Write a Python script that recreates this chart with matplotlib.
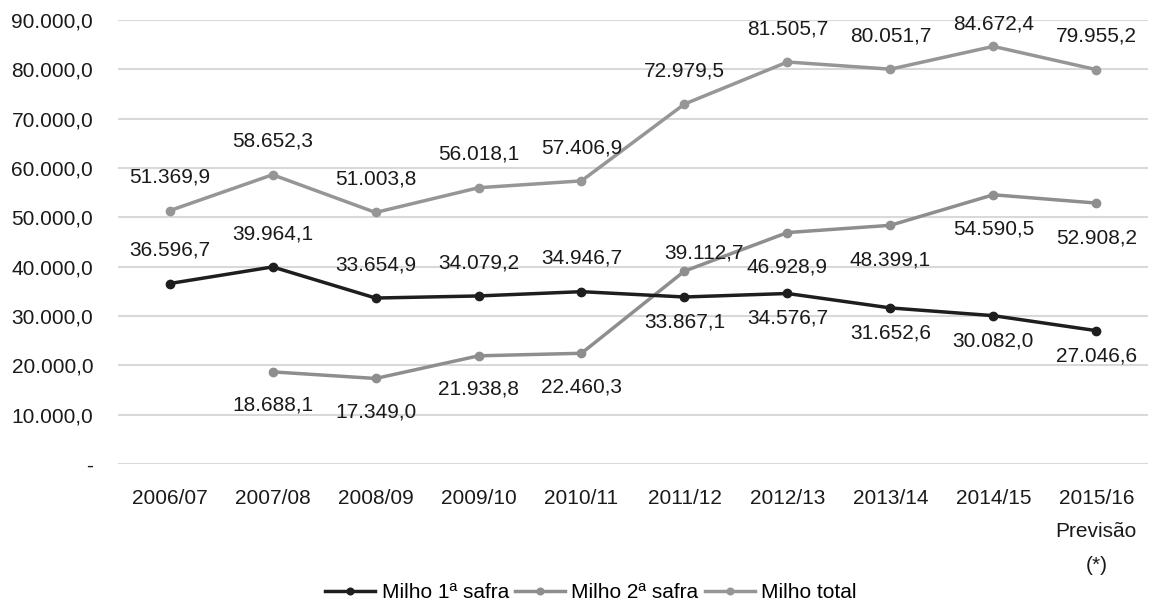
import matplotlib
matplotlib.use("Agg")
import matplotlib.pyplot as plt
import numpy as np

plt.rcParams['font.family'] = ['Liberation Sans', 'DejaVu Sans']

categories = ["2006/07", "2007/08", "2008/09", "2009/10", "2010/11",
              "2011/12", "2012/13", "2013/14", "2014/15", "2015/16\nPrevisão\n(*)"]
safra1 = [36596.7, 39964.1, 33654.9, 34079.2, 34946.7, 33867.1, 34576.7, 31652.6, 30082.0, 27046.6]
safra2 = [np.nan, 18688.1, 17349.0, 21938.8, 22460.3, 39112.7, 46928.9, 48399.1, 54590.5, 52908.2]
total = [51369.9, 58652.3, 51003.8, 56018.1, 57406.9, 72979.5, 81505.7, 80051.7, 84672.4, 79955.2]
yticks = [0, 10000, 20000, 30000, 40000, 50000, 60000, 70000, 80000, 90000]
ytick_labels = ["-", "10.000,0", "20.000,0", "30.000,0", "40.000,0", "50.000,0",
                "60.000,0", "70.000,0", "80.000,0", "90.000,0"]

# label placement (style): offset in points
off1 = [(0, 24)] * 5 + [(0, -18)] * 5
off2 = [(0, -24)] * 5 + [(14, 13)] + [(0, -25)] * 4
offt = [(0, 24)] * 8 + [(0, 16)] + [(0, 24)]


def fmt(v):
    s = f"{v:,.1f}"
    return s.replace(",", "X").replace(".", ",").replace("X", ".")


fig = plt.figure(figsize=(11.70, 6.09), dpi=100)
ax = fig.add_axes([0.101, 0.238, 0.880, 0.729])
x = np.arange(len(categories))

c1, c2, ct = "#1e1e1e", "#8e8e8e", "#969696"
l1, = ax.plot(x, safra1, color=c1, lw=2.5, marker="o", ms=6, zorder=4, label="Milho 1ª safra")
l2, = ax.plot(x, safra2, color=c2, lw=2.5, marker="o", ms=6, zorder=3, label="Milho 2ª safra")
lt, = ax.plot(x, total, color=ct, lw=2.5, marker="o", ms=6, zorder=3, label="Milho total")

for series, offs in ((safra1, off1), (safra2, off2), (total, offt)):
    for xi, v, o in zip(x, series, offs):
        if np.isnan(v):
            continue
        ax.annotate(fmt(v), (xi, v), xytext=o, textcoords="offset points",
                    ha="center", va="center", fontsize=15, color="#1a1a1a", zorder=5)

ax.set_xlim(-0.5, len(categories) - 0.5)
ax.set_ylim(0, 90000)
ax.set_yticks(yticks)
ax.set_yticklabels(ytick_labels)
ax.set_xticks(x)
ax.set_xticklabels(categories, linespacing=1.95, va="top")
ax.tick_params(axis="both", length=0, labelsize=15, colors="#1a1a1a")
ax.tick_params(axis="y", pad=18)
ax.tick_params(axis="x", pad=18)
ax.grid(axis="y", color="#d9d9d9", lw=1.5)
ax.set_axisbelow(True)
for s in ax.spines.values():
    s.set_visible(False)

fig.legend(handles=[l1, l2, lt], loc="center", bbox_to_anchor=(0.505, 0.027), ncol=3,
           frameon=False, fontsize=15, handlelength=2.4, handletextpad=0.3,
           columnspacing=0.3, markerscale=0.8)

fig.savefig("out.png", dpi=100)
